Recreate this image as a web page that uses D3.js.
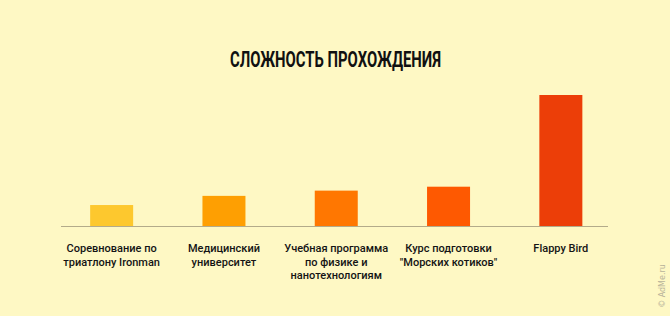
<!DOCTYPE html>
<html>
<head>
<meta charset="utf-8">
<script src="https://cdn.jsdelivr.net/npm/d3@7"></script>
<style>
	html, body { margin: 0; padding: 0; background: #fef8c4; }
	svg { display: block; }
</style>
</head>
<body>
<svg id="chart"></svg>
<script>
// Chart data
const categories = [
	'Соревнование по|триатлону Ironman',
	'Медицинский|университет',
	'Учебная программа|по физике и|нанотехнологиям',
	'Курс подготовки|"Морских котиков"',
	'Flappy Bird'
];
const values = [16, 23, 27, 30, 100];
const colors = ['#fdc82e', '#fe9f02', '#ff7701', '#fe5901', '#ec3e08'];
const title = 'СЛОЖНОСТЬ ПРОХОЖДЕНИЯ';
const watermark = '© AdMe.ru';

const width = 670, height = 316;
const baseline = 226;

let svg = d3.select('#chart')
	.attr('width', width)
	.attr('height', height);

svg.append('rect')
	.attr('width', width)
	.attr('height', height)
	.attr('fill', '#fef8c4');

// x slots, one per category
let x = d3.scaleBand()
	.domain(categories)
	.range([55.5, 617])
	.padding(0);
let barW = 43;

let y = d3.scaleLinear()
	.domain([0, 100])
	.range([baseline, 95]);

// title (condensed look via textLength, no narrow font installed)
svg.append('text')
	.attr('x', 230)
	.attr('y', 67)
	.attr('textLength', 211)
	.attr('lengthAdjust', 'spacingAndGlyphs')
	.style('font-family', '"Roboto", sans-serif')
	.style('font-size', '21.5px')
	.style('font-weight', '700')
	.style('fill', '#111')
	.text(title);

// bars
svg.append('g')
	.selectAll('rect')
	.data(values)
	.enter()
	.append('rect')
	.attr('x', (d, i) => x(categories[i]) + x.bandwidth() / 2 - barW / 2)
	.attr('y', (d) => y(d))
	.attr('width', barW)
	.attr('height', (d) => baseline - y(d))
	.attr('fill', (d, i) => colors[i]);

// baseline
svg.append('line')
	.attr('x1', 61)
	.attr('x2', 608)
	.attr('y1', baseline + 0.5)
	.attr('y2', baseline + 0.5)
	.attr('stroke', '#b3ab8a')
	.attr('stroke-width', 1.2);

// category labels
let labels = svg.append('g')
	.selectAll('text')
	.data(categories)
	.enter()
	.append('text')
	.attr('x', (d) => x(d) + x.bandwidth() / 2)
	.attr('y', 252)
	.attr('text-anchor', 'middle')
	.style('font-family', '"Roboto", sans-serif')
	.style('font-size', '11px')
	.style('font-weight', '500')
	.style('fill', '#141414');

labels.each(function (d) {
	let t = d3.select(this);
	d.split('|').forEach((line, k) => {
		t.append('tspan')
			.attr('x', t.attr('x'))
			.attr('dy', k === 0 ? 0 : 13.5)
			.text(line);
	});
});

// watermark
svg.append('text')
	.attr('transform', 'translate(665,286) rotate(-90)')
	.attr('text-anchor', 'middle')
	.style('font-family', '"DejaVu Sans", sans-serif')
	.style('font-size', '8px')
	.style('fill', '#b8b39a')
	.text(watermark);
</script>
</body>
</html>
